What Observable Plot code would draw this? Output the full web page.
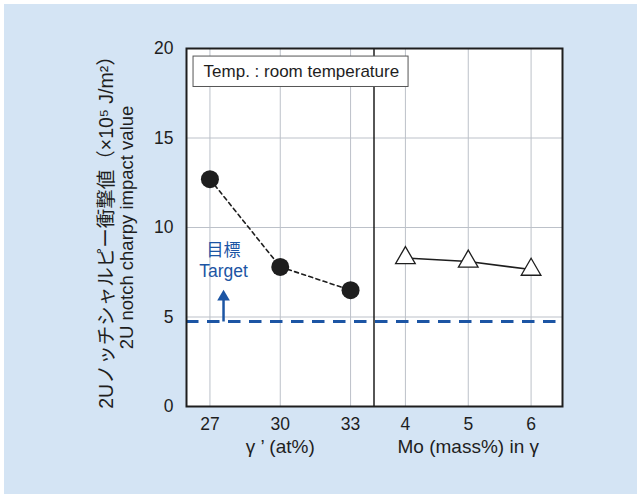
<!DOCTYPE html>
<html>
<head>
<meta charset="utf-8">
<script src="https://cdn.jsdelivr.net/npm/d3@7"></script>
<script src="https://cdn.jsdelivr.net/npm/@observablehq/plot@0.6"></script>
<style>
  html, body { margin: 0; padding: 0; background: #ffffff; }
  #wrap { position: relative; width: 637px; height: 494px; overflow: hidden; }
  #panel { position: absolute; left: 4px; top: 4px; right: 0; bottom: 0; background: #d4e4f4; }
  #chart { position: absolute; left: 0; top: 0; }
  #chart svg { background: transparent; }
</style>
</head>
<body>
<div id="wrap"><div id="panel"></div><div id="chart"></div></div>
<script>
// ---- data ----
const gammaPrime = [27, 30, 33];              // γ' (at%)
const charpyGammaPrime = [12.7, 7.8, 6.5];    // ×10^5 J/m^2
const moInGamma = [4, 5, 6];                  // Mo (mass%) in γ
const charpyMo = [8.3, 8.1, 7.65];            // ×10^5 J/m^2
const targetValue = 4.75;                     // target level
const yTicks = [0, 5, 10, 15, 20];
const groupTitles = ["γ ’ (at%)", "Mo (mass%) in γ"];
const yTitleJa = "2Uノッチシャルピー衝撃値（×10⁵ J/m²）";
const yTitleEn = "2U notch charpy impact value";
const noteText = "Temp. : room temperature";
const targetJa = "目標";
const targetEn = "Target";

// The two groups share one x axis: Mo values are shifted to sit right of the divider.
const MO_OFFSET = 30.5;
const xDomain = [26, 34, 37];        // left group | divider | right group
const dividerPos = 34;

const leftData = gammaPrime.map((g, i) => ({pos: g, value: charpyGammaPrime[i], label: String(g)}));
const rightData = moInGamma.map((m, i) => ({pos: m + MO_OFFSET, value: charpyMo[i], label: String(m)}));
const allTicks = [...leftData, ...rightData];
const labelOf = new Map(allTicks.map(d => [d.pos, d.label]));

const W = 637, H = 494;
const mL = 186, mR = 75, mT = 48, mB = 88;

const font = "'Liberation Sans', Arial, 'Noto Sans CJK JP', sans-serif";
const ink = "#1e1e1e";
const blue = "#1c55a4";
const grid = "#bcc1c9";

const chart = Plot.plot({
  width: W,
  height: H,
  marginLeft: mL,
  marginRight: mR,
  marginTop: mT,
  marginBottom: mB,
  style: {fontFamily: font, background: "transparent", color: ink},
  x: {type: "linear", domain: xDomain, range: [mL, (mL + (W - mR)) / 2 - 0.5, W - mR]},
  y: {domain: [0, 20]},
  marks: [
    Plot.frame({fill: "white"}),
    Plot.gridX(allTicks.map(d => d.pos), {stroke: grid, strokeOpacity: 1, strokeWidth: 1}),
    Plot.gridY(yTicks.slice(1, -1), {stroke: grid, strokeOpacity: 1, strokeWidth: 1}),
    Plot.ruleX([dividerPos], {stroke: ink, strokeWidth: 1.5}),
    // target line
    Plot.ruleY([targetValue], {stroke: blue, strokeWidth: 3, strokeDasharray: "12.5,8.5"}),
    // note box
    Plot.rect([{x1: 26.3, x2: 34.55, y1: 17.85, y2: 19.55}], {x1: "x1", x2: "x2", y1: "y1", y2: "y2", fill: "white", stroke: "#555", strokeWidth: 1}),
    Plot.text([noteText], {x: 30.9, y: 18.7, text: d => d, fontSize: 17, fill: ink, textAnchor: "middle"}),
    // target annotation
    Plot.link([{y1: targetValue, y2: 6.0}], {x1: 27.58, x2: 27.58, y1: "y1", y2: "y2", stroke: blue, strokeWidth: 2.5}),
    Plot.dot([6.12], {x: 27.58, y: d => d, symbol: "triangle", r: 4.7, fill: blue, stroke: "none"}),
    Plot.text([targetJa], {x: 27.58, y: 8.72, text: d => d, fontSize: 17, fill: blue}),
    Plot.text([targetEn], {x: 27.58, y: 7.55, text: d => d, fontSize: 17.5, fill: blue}),
    // data
    Plot.line(leftData, {x: "pos", y: "value", stroke: ink, strokeWidth: 1.6, strokeDasharray: "4,3.5"}),
    Plot.line(rightData, {x: "pos", y: "value", stroke: ink, strokeWidth: 1.6}),
    Plot.dot(leftData, {x: "pos", y: "value", r: 9, fill: ink, stroke: "none"}),
    Plot.dot(rightData, {x: "pos", y: "value", symbol: "triangle", r: 7.3, fill: "white", stroke: ink, strokeWidth: 1.3}),
    // frame on top
    Plot.frame({stroke: ink, strokeWidth: 2}),
    // axes
    Plot.axisY(yTicks, {tickSize: 0, tickPadding: 13, fontSize: 17.5, label: null, fill: ink}),
    Plot.axisX(allTicks.map(d => d.pos), {tickSize: 0, tickPadding: 11, fontSize: 17.5, label: null, fill: ink, tickFormat: d => labelOf.get(d)}),
    Plot.text([groupTitles[0]], {x: 30, frameAnchor: "bottom", dy: 46, text: d => d, fontSize: 19, fill: ink}),
    Plot.text([groupTitles[1]], {x: 5 + MO_OFFSET, frameAnchor: "bottom", dy: 46, text: d => d, fontSize: 19, fill: ink}),
    Plot.text([yTitleJa], {frameAnchor: "left", dx: -80, textAnchor: "middle", text: d => d, rotate: -90, fontSize: 19.5, fill: ink}),
    Plot.text([yTitleEn], {frameAnchor: "left", dx: -59, textAnchor: "middle", text: d => d, rotate: -90, fontSize: 18.5, fill: ink})
  ]
});
document.getElementById("chart").appendChild(chart);
</script>
</body>
</html>
